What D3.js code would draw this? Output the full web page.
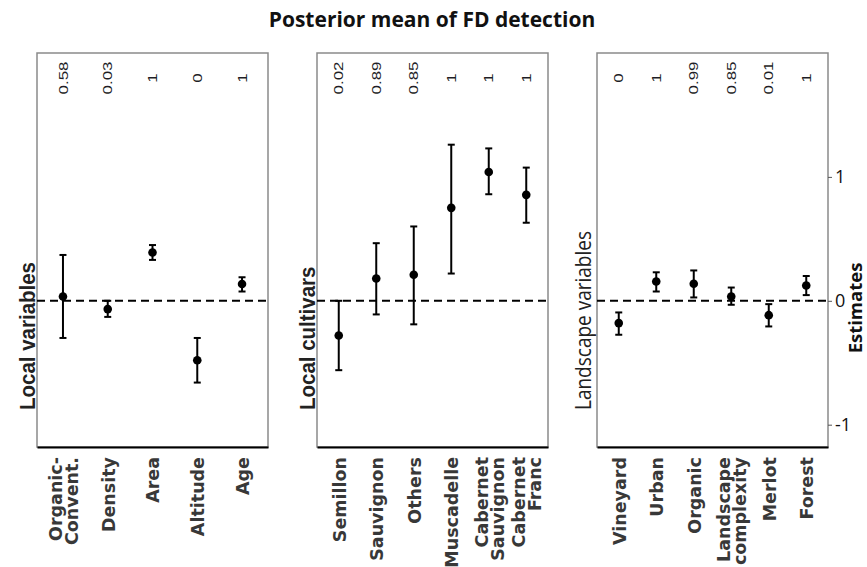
<!DOCTYPE html>
<html>
<head>
<meta charset="utf-8">
<script src="https://cdn.jsdelivr.net/npm/d3@7"></script>
<style>
  body { margin: 0; background: #fff; }
</style>
</head>
<body>
<div id="vis"></div>
<script>
// panel 1 - local variables
var localVars  = ["Organic-\nConvent.", "Density", "Area", "Altitude", "Age"];
var localMean  = [0.035, -0.067, 0.39, -0.48, 0.135];
var localLow   = [-0.30, -0.13, 0.33, -0.66, 0.075];
var localHigh  = [0.37, 0.0, 0.45, -0.30, 0.19];
var localProb  = ["0.58", "0.03", "1", "0", "1"];

// panel 2 - local cultivars
var cultivars  = ["Semillon", "Sauvignon", "Others", "Muscadelle", "Cabernet\nSauvignon", "Cabernet\nFranc"];
var cultMean   = [-0.28, 0.18, 0.21, 0.75, 1.04, 0.855];
var cultLow    = [-0.56, -0.11, -0.19, 0.22, 0.86, 0.63];
var cultHigh   = [0.0, 0.465, 0.60, 1.26, 1.23, 1.075];
var cultProb   = ["0.02", "0.89", "0.85", "1", "1", "1"];

// panel 3 - landscape variables
var landVars   = ["Vineyard", "Urban", "Organic", "Landscape\ncomplexity", "Merlot", "Forest"];
var landMean   = [-0.18, 0.156, 0.137, 0.035, -0.116, 0.124];
var landLow    = [-0.274, 0.075, 0.027, -0.032, -0.207, 0.046];
var landHigh   = [-0.094, 0.23, 0.245, 0.107, -0.027, 0.20];
var landProb   = ["0", "1", "0.99", "0.85", "0.01", "1"];

var panelTitles = ["Local variables", "Local cultivars", "Landscape variables"];
var yTicks = [-1, 0, 1];

var w = 867;
var h = 567;
var plotTop = 53, plotBottom = 447;
var panelW = 231;
var panelX = [37, 317, 597];

var svg = d3.select("#vis")
            .append("svg")
            .attr("width", w)
            .attr("height", h)
            .style("background-color", "#fff");

const y = d3.scaleLinear()
            .domain([-1.18, 2.0])
            .range([plotBottom, plotTop]);

var panels = [
  {cats: localVars, mean: localMean, low: localLow, high: localHigh, prob: localProb},
  {cats: cultivars, mean: cultMean,  low: cultLow,  high: cultHigh,  prob: cultProb},
  {cats: landVars,  mean: landMean,  low: landLow,  high: landHigh,  prob: landProb}
];

// title
svg.append("text")
   .attr("x", 432)
   .attr("y", 27)
   .attr("text-anchor", "middle")
   .style("font-family", "'Open Sans', sans-serif")
   .style("font-weight", "bold")
   .style("font-size", "21px")
   .style("fill", "#111")
   .text("Posterior mean of FD detection");

panels.forEach(function(p, i) {
  var g = svg.append("g").attr("transform", `translate(${panelX[i]},0)`);

  const x = d3.scalePoint()
              .domain(p.cats)
              .range([0, panelW])
              .padding(0.58);

  var rows = p.cats.map((c, k) => ({cat: c, mean: p.mean[k], low: p.low[k], high: p.high[k], prob: p.prob[k]}));

  // frame
  g.append("rect")
   .attr("x", 0).attr("y", plotTop)
   .attr("width", panelW).attr("height", plotBottom - plotTop)
   .attr("fill", "none")
   .attr("stroke", "#8a8a8a")
   .attr("stroke-width", 1.5);

  // zero line
  g.append("line")
   .attr("x1", 0).attr("x2", panelW)
   .attr("y1", y(0)).attr("y2", y(0))
   .attr("stroke", "#000")
   .attr("stroke-width", 2)
   .attr("stroke-dasharray", "8,5");

  // x axis with rotated labels
  var ax = g.append("g")
            .attr("transform", `translate(0,${plotBottom})`)
            .call(d3.axisBottom(x).tickSize(0));
  ax.select(".domain").attr("stroke", "#000").attr("stroke-width", 2);
  ax.selectAll("text").each(function(d) {
    var lines = d.split("\n");
    var t = d3.select(this);
    t.text(null)
     .attr("transform", "rotate(-90)")
     .attr("text-anchor", "end")
     .attr("x", -10).attr("y", 0).attr("dy", null)
     .style("font-family", "'DejaVu Sans', sans-serif")
     .style("font-weight", "bold")
     .style("font-size", "17.5px")
     .style("fill", "#383838");
    lines.forEach(function(l, k) {
      t.append("tspan")
       .attr("x", -10)
       .attr("y", (k - (lines.length - 1) / 2) * 16)
       .attr("dy", "0.36em")
       .text(l);
    });
  });

  // error bars
  var bars = g.selectAll(".bar").data(rows).enter().append("g");
  bars.append("line")
      .attr("x1", d => x(d.cat)).attr("x2", d => x(d.cat))
      .attr("y1", d => y(d.low)).attr("y2", d => y(d.high))
      .attr("stroke", "#000").attr("stroke-width", 2);
  bars.append("line")
      .attr("x1", d => x(d.cat) - 3.5).attr("x2", d => x(d.cat) + 3.5)
      .attr("y1", d => y(d.low)).attr("y2", d => y(d.low))
      .attr("stroke", "#000").attr("stroke-width", 2);
  bars.append("line")
      .attr("x1", d => x(d.cat) - 3.5).attr("x2", d => x(d.cat) + 3.5)
      .attr("y1", d => y(d.high)).attr("y2", d => y(d.high))
      .attr("stroke", "#000").attr("stroke-width", 2);
  bars.append("circle")
      .attr("cx", d => x(d.cat))
      .attr("cy", d => y(d.mean))
      .attr("r", 4.3)
      .attr("fill", "#000");

  // posterior probabilities on top
  g.selectAll(".prob").data(rows).enter()
   .append("text")
   .attr("transform", d => `translate(${x(d.cat)},78) rotate(-90) scale(1.3,1)`)
   .attr("text-anchor", "middle")
   .attr("dy", "0.36em")
   .style("font-family", "'Liberation Sans', Arial, sans-serif")
   .style("font-size", "13px")
   .style("fill", "#1e1e26")
   .text(d => d.prob);

  // panel title
  var bx = i == 2 ? -6 : -2;
  g.append("text")
   .attr("transform", `translate(${bx},410) rotate(-90) scale(1,1.1)`)
   .attr("text-anchor", "start")
   .style("font-family", i == 2 ? "'Open Sans', sans-serif" : "'Liberation Sans', Arial, sans-serif")
   .style("font-weight", i == 2 ? "normal" : "bold")
   .style("font-size", i == 2 ? "19px" : "20.5px")
   .style("fill", i == 2 ? "#222" : "#222")
   .text(panelTitles[i]);
});

// right axis
var yAxis = svg.append("g")
               .attr("transform", `translate(${panelX[2] + panelW},0)`)
               .call(d3.axisRight(y).tickValues(yTicks).tickSize(4).tickFormat(d => String(d)));
yAxis.select(".domain").remove();
yAxis.selectAll("line").attr("stroke", "#555");
yAxis.selectAll("text")
     .style("font-family", "'Open Sans', sans-serif")
     .style("font-size", "18px")
     .style("fill", "#111");

svg.append("text")
   .attr("transform", "translate(862,308) rotate(-90)")
   .attr("text-anchor", "middle")
   .style("font-family", "'Open Sans', sans-serif")
   .style("font-weight", "bold")
   .style("font-size", "18.5px")
   .style("fill", "#111")
   .text("Estimates");
</script>
</body>
</html>
